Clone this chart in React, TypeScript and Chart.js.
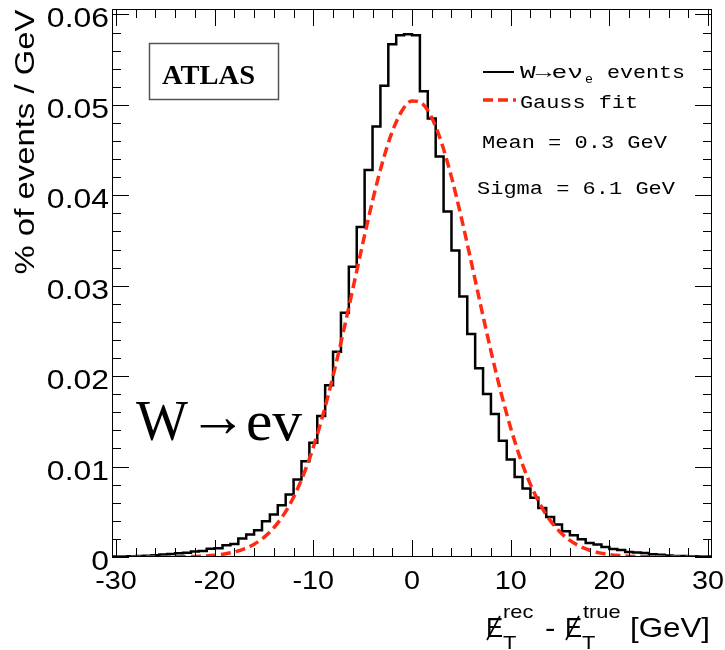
import React, { useEffect, useRef } from "react";
import { Chart, registerables } from "chart.js";

Chart.register(...registerables);

// ---- data ----
const binLow = -30.4;
const binWidth = 0.8;
// histogram contents, 76 bins from -30.4 to 30.4
const histValues = [
  0.00004, 0.00005, 0.00006, 0.00008, 0.0001, 0.00015, 0.00018, 0.00028, 0.00032, 0.00042,
  0.00047, 0.0006, 0.00066, 0.0009, 0.00097, 0.0013, 0.00145, 0.00204, 0.00248, 0.00296,
  0.00395, 0.0047, 0.00573, 0.00691, 0.00857, 0.0106, 0.01263, 0.01558, 0.019, 0.0227,
  0.027, 0.0321, 0.0365, 0.0428, 0.0476, 0.0521, 0.0567, 0.0577,
  0.0578, 0.0577, 0.0515, 0.0485, 0.0443, 0.0382, 0.0339, 0.0288, 0.02467, 0.02087,
  0.01802, 0.01581, 0.01285, 0.01079, 0.00886, 0.00758, 0.00654, 0.00543, 0.00443, 0.00359,
  0.00285, 0.0024, 0.00196, 0.00155, 0.00137, 0.00111, 0.00088, 0.00078, 0.00055, 0.00049,
  0.00044, 0.0003, 0.00025, 0.00016, 0.00012, 0.0001, 0.00008, 0.00006,
];
// Gauss fit curve
const fitX = [
  -30, -29, -28, -27, -26, -25, -24, -23, -22, -21, -20, -19, -18, -17, -16, -15, -14, -13, -12, -11,
  -10, -9, -8, -7, -6, -5, -4, -3, -2, -1, 0, 1, 2, 3, 4, 5, 6, 7, 8, 9,
  10, 11, 12, 13, 14, 15, 16, 17, 18, 19, 20, 21, 22, 23, 24, 25, 26, 27, 28, 29, 30,
];
const fitY = [
  0, 0, 0.000001, 0.000002, 0.000005, 0.00001, 0.000018, 0.000035, 0.000063, 0.000114,
  0.000199, 0.000338, 0.000561, 0.000905, 0.001422, 0.002174, 0.003235, 0.004689, 0.006613, 0.00908,
  0.01214, 0.0158, 0.02001, 0.02468, 0.02963, 0.03462, 0.03939, 0.04363, 0.04704, 0.04937,
  0.05044, 0.05017, 0.04858, 0.04579, 0.04201, 0.03753, 0.03264, 0.02763, 0.02277, 0.01826,
  0.01426, 0.01084, 0.00803, 0.00578, 0.00405, 0.00277, 0.00184, 0.00119, 0.00075, 0.00046,
  0.00027, 0.00016, 0.00009, 0.00005, 0.000027, 0.000014, 0.000007, 0.000003, 0.000001, 0, 0,
];
const xTickLabels = ["-30", "-20", "-10", "0", "10", "20", "30"];
const yTickLabels = ["0", "0.01", "0.02", "0.03", "0.04", "0.05", "0.06"];
const xMin = -30.4;
const xMax = 30.4;
const yMin = 0;
const yMax = 0.0606;
const legendHist = "W\u2192e\u03bd";
const legendHistSub = "e";
const legendHistTail = "events";
const legendFit = "Gauss fit";
const statMean = "Mean = 0.3 GeV";
const statSigma = "Sigma = 6.1 GeV";
const yTitle = "% of events / GeV";
const bigW = "W";
const bigArrow = "\u2192";
const bigEv = "ev";

const RED = "#ff2a12";
const SANS = "'Liberation Sans', Arial, Helvetica, sans-serif";
const MONO = "'Courier New', 'Liberation Mono', monospace";
const SERIF = "'Liberation Serif', 'Times New Roman', serif";
const SX = 1.15;

function sText(ctx: CanvasRenderingContext2D, text: string, x: number, y: number, font: string, align: CanvasTextAlign, sx: number) {
  ctx.save();
  ctx.font = font;
  ctx.textAlign = align;
  ctx.textBaseline = "alphabetic";
  ctx.translate(x, y);
  ctx.scale(sx, 1);
  ctx.fillText(text, 0, 0);
  ctx.restore();
}

function fitText(ctx: CanvasRenderingContext2D, text: string, x: number, y: number, font: string, width: number, align: CanvasTextAlign = "left") {
  ctx.save();
  ctx.font = font;
  const w = ctx.measureText(text).width || 1;
  ctx.restore();
  sText(ctx, text, x, y, font, align, width / w);
}

function slashedE(ctx: CanvasRenderingContext2D, x: number, base: number) {
  sText(ctx, "E", x, base, `27px ${SANS}`, "left", 0.95);
  ctx.save();
  ctx.strokeStyle = "#000";
  ctx.lineWidth = 1.6;
  ctx.beginPath();
  ctx.moveTo(x + 1, base + 3);
  ctx.lineTo(x + 14, base - 21);
  ctx.stroke();
  ctx.restore();
}

const rootPlugin = {
  id: "rootStyle",
  beforeDraw(chart: any) {
    const ctx = chart.ctx;
    ctx.save();
    ctx.fillStyle = "#ffffff";
    ctx.fillRect(0, 0, chart.width, chart.height);
    ctx.restore();
  },
  afterDraw(chart: any) {
    const ctx: CanvasRenderingContext2D = chart.ctx;
    const a = chart.chartArea;
    const xs = chart.scales.x;
    const ys = chart.scales.y;
    ctx.save();
    ctx.fillStyle = "#000";
    ctx.strokeStyle = "#000";
    ctx.lineWidth = 1;
    // frame
    ctx.strokeRect(a.left + 0.5, a.top + 0.5, a.right - a.left - 1, a.bottom - a.top - 1);
    // x ticks
    ctx.beginPath();
    for (let i = -15; i <= 15; i++) {
      const v = i * 2;
      const px = Math.round(xs.getPixelForValue(v)) + 0.5;
      const len = v % 10 === 0 ? 17 : 9;
      ctx.moveTo(px, a.bottom);
      ctx.lineTo(px, a.bottom - len);
      ctx.moveTo(px, a.top);
      ctx.lineTo(px, a.top + len);
    }
    // y ticks
    for (let i = 0; i <= 30; i++) {
      const v = i * 0.002;
      const py = Math.round(ys.getPixelForValue(v)) + 0.5;
      const len = i % 5 === 0 ? 17 : 9;
      ctx.moveTo(a.left, py);
      ctx.lineTo(a.left + len, py);
      ctx.moveTo(a.right, py);
      ctx.lineTo(a.right - len, py);
    }
    ctx.stroke();

    // tick labels
    xTickLabels.forEach((lab) => {
      const px = xs.getPixelForValue(Number(lab));
      sText(ctx, lab, px, 589, `25px ${SANS}`, "center", SX);
    });
    yTickLabels.forEach((lab) => {
      const py = ys.getPixelForValue(Number(lab));
      sText(ctx, lab, a.left - 3, py + 13, `28px ${SANS}`, "right", 1.14);
    });

    // y title
    ctx.save();
    ctx.translate(27, 142);
    ctx.rotate(-Math.PI / 2);
    ctx.font = `27px ${SANS}`;
    const tw = ctx.measureText(yTitle).width;
    ctx.scale(265 / tw, 1);
    ctx.textAlign = "center";
    ctx.textBaseline = "middle";
    ctx.fillText(yTitle, 0, 0);
    ctx.restore();

    // x title: Ebar_T^rec - Ebar_T^true [GeV]
    slashedE(ctx, 486, 637);
    sText(ctx, "T", 503, 649, `19px ${SANS}`, "left", SX);
    sText(ctx, "rec", 503, 618, `19px ${SANS}`, "left", SX);
    sText(ctx, "-", 545, 637, `27px ${SANS}`, "left", SX);
    slashedE(ctx, 565, 637);
    sText(ctx, "T", 582, 649, `19px ${SANS}`, "left", SX);
    sText(ctx, "true", 583, 618, `19px ${SANS}`, "left", SX);
    fitText(ctx, "[GeV]", 630, 637, `28px ${SANS}`, 80);

    // ATLAS box
    ctx.save();
    ctx.strokeStyle = "#555";
    ctx.lineWidth = 1.5;
    ctx.strokeRect(149.5, 43.5, 129, 56);
    ctx.restore();
    fitText(ctx, "ATLAS", 208.5, 84, `bold 27px ${SERIF}`, 93, "center");

    // legend
    ctx.save();
    ctx.strokeStyle = "#000";
    ctx.lineWidth = 2;
    ctx.beginPath();
    ctx.moveTo(483, 72);
    ctx.lineTo(514, 72);
    ctx.stroke();
    ctx.strokeStyle = RED;
    ctx.lineWidth = 3.5;
    ctx.setLineDash([10, 5]);
    ctx.beginPath();
    ctx.moveTo(483, 100);
    ctx.lineTo(516, 100);
    ctx.stroke();
    ctx.restore();
    fitText(ctx, legendHist, 520, 78, `19px ${MONO}`, 63);
    sText(ctx, legendHistSub, 585, 83, `12px ${MONO}`, "left", 1.1);
    fitText(ctx, legendHistTail, 607, 78, `19px ${MONO}`, 78);
    fitText(ctx, legendFit, 520, 108, `19px ${MONO}`, 118);
    fitText(ctx, statMean, 482, 148, `19px ${MONO}`, 185);
    fitText(ctx, statSigma, 477, 194, `19px ${MONO}`, 198);

    // big label W -> ev
    fitText(ctx, bigW, 136, 440, `58px ${SERIF}`, 52);
    fitText(ctx, bigArrow, 189, 436, `60px ${SERIF}`, 58);
    fitText(ctx, bigEv, 246, 440, `58px ${SERIF}`, 56);

    ctx.restore();
  },
};

export default function App() {
  const ref = useRef<HTMLCanvasElement | null>(null);
  useEffect(() => {
    if (!ref.current) return;
    const hist = histValues.map((v, i) => ({ x: binLow + i * binWidth, y: v }));
    hist.push({ x: binLow + histValues.length * binWidth, y: histValues[histValues.length - 1] });
    const fit = fitX.map((x, i) => ({ x, y: fitY[i] }));
    const chart = new Chart(ref.current, {
      type: "line",
      data: {
        datasets: [
          {
            label: legendFit,
            data: fit,
            borderColor: RED,
            borderWidth: 3.5,
            borderDash: [10, 5],
            pointRadius: 0,
            tension: 0.4,
            cubicInterpolationMode: "monotone",
            fill: false,
            order: 0,
          } as any,
          {
            label: "W\u2192e\u03bde events",
            data: hist,
            stepped: "after",
            borderColor: "#000",
            borderWidth: 2.5,
            pointRadius: 0,
            fill: false,
            order: 1,
          } as any,
        ],
      },
      options: {
        responsive: false,
        animation: false,
        devicePixelRatio: 1,
        events: [],
        layout: { padding: { left: 112, right: 13, top: 9, bottom: 93 } },
        scales: {
          x: { type: "linear", min: xMin, max: xMax, display: false },
          y: { type: "linear", min: yMin, max: yMax, display: false },
        },
        plugins: { legend: { display: false }, tooltip: { enabled: false } },
      },
      plugins: [rootPlugin],
    });
    return () => chart.destroy();
  }, []);
  return (
    <div style={{ position: "absolute", left: 0, top: 0, width: 725, height: 650 }}>
      <canvas ref={ref} width={725} height={650} style={{ display: "block" }} />
    </div>
  );
}
